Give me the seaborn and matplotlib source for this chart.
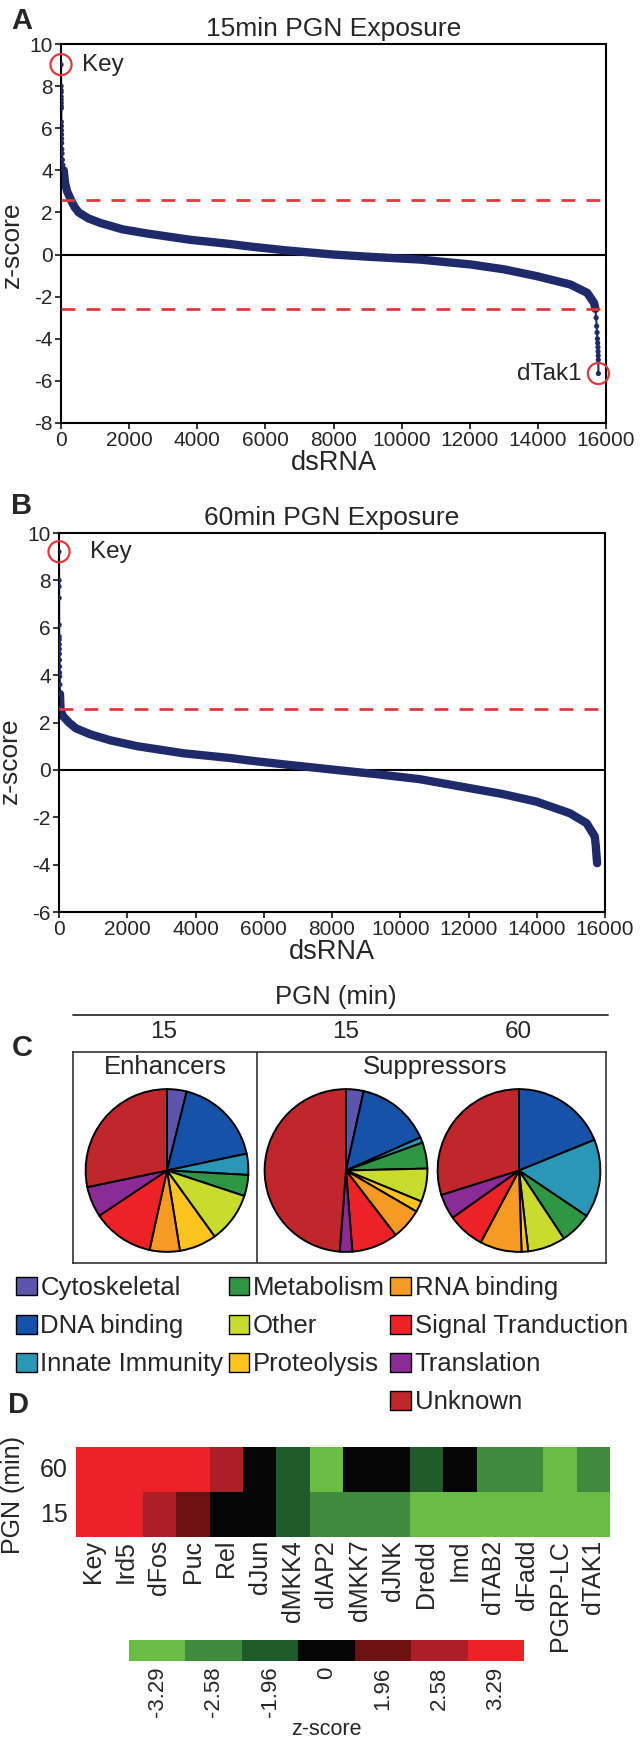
import numpy as np
import pandas as pd
import matplotlib
matplotlib.use("Agg")
import matplotlib.pyplot as plt
from matplotlib.colors import ListedColormap, BoundaryNorm
from matplotlib.patches import Patch
from matplotlib.lines import Line2D
import seaborn as sns

# A: ranked z-scores after 15 min PGN (Key first, dTak1 last)
rank_15 = [1, 2, 3, 4, 5, 6, 7, 8, 9, 10, 12, 14, 16, 18, 20, 25, 30, 40, 55, 80,
           120, 180, 296, 400, 520, 800, 1157, 1800, 2527, 3800, 4970, 5560, 6600,
           8000, 9000, 10550, 12020, 13000, 13980, 14950, 15450, 15650, 15690,
           15710, 15725, 15738, 15748, 15756, 15762, 15767, 15771, 15774, 15777]
z_15 = [9.02, 8.0, 7.8, 7.7, 7.5, 7.35, 7.2, 7.05, 6.95, 6.3, 6.1, 5.9, 5.7, 5.5,
        5.3, 5.0, 4.8, 4.5, 4.25, 4.0, 3.4, 3.0, 2.58, 2.25, 2.0, 1.72, 1.5, 1.2,
        1.0, 0.7, 0.5, 0.38, 0.2, 0.0, -0.1, -0.24, -0.47, -0.7, -1.03, -1.42,
        -1.82, -2.3, -2.58, -3.0, -3.4, -3.7, -4.0, -4.2, -4.4, -4.6, -4.8, -5.0,
        -5.65]

# B: ranked z-scores after 60 min PGN
rank_60 = [1, 2, 3, 4, 5, 6, 7, 8, 9, 10, 12, 14, 16, 20, 25, 30, 44, 100, 290,
           500, 920, 1500, 2290, 3650, 5020, 5610, 6800, 8100, 9300, 10560, 12030,
           13000, 13990, 14970, 15460, 15700, 15730, 15750, 15770]
z_60 = [9.21, 8.0, 7.74, 7.25, 6.12, 5.63, 5.5, 5.3, 5.1, 4.9, 4.64, 4.36, 4.1,
        3.94, 3.6, 3.2, 2.58, 2.3, 2.0, 1.75, 1.5, 1.25, 1.0, 0.7, 0.5, 0.39, 0.2,
        0.0, -0.18, -0.39, -0.77, -1.02, -1.34, -1.83, -2.25, -2.81, -3.2, -3.6,
        -3.94]
cutoff = 2.58

# C: functional categories of hits (percent)
categories = ["Cytoskeletal", "DNA binding", "Innate Immunity", "Metabolism", "Other",
              "Proteolysis", "RNA binding", "Signal Tranduction", "Translation", "Unknown"]
cat_colors = ["#5b55ab", "#1552a8", "#2a97b6", "#2e9744", "#c9dc2e",
              "#fcc41c", "#f59a22", "#ec2227", "#8b2b98", "#c0272d"]
enh_15 = [3.9, 17.8, 4.2, 4.2, 10.0, 7.4, 6.0, 12.2, 6.1, 28.3]
sup_15 = [3.5, 14.9, 1.1, 5.2, 6.6, 2.2, 6.2, 9.2, 2.5, 48.9]
sup_60 = [0.0, 18.9, 15.6, 6.3, 7.5, 1.3, 8.3, 7.4, 5.0, 29.9]

# D: z-score class of selected genes
genes = ["Key", "Ird5", "dFos", "Puc", "Rel", "dJun", "dMKK4", "dIAP2", "dMKK7",
         "dJNK", "Dredd", "Imd", "dTAB2", "dFadd", "PGRP-LC", "dTAK1"]
hm_60 = [3.29, 3.29, 3.29, 3.29, 2.58, 0, -1.96, -3.29, 0, 0, -1.96, 0, -2.58,
         -2.58, -3.29, -2.58]
hm_15 = [3.29, 3.29, 2.58, 1.96, 0, 0, -1.96, -2.58, -2.58, -2.58, -3.29, -3.29,
         -3.29, -3.29, -3.29, -3.29]
levels = [-3.29, -2.58, -1.96, 0, 1.96, 2.58, 3.29]
level_labels = ["-3.29", "-2.58", "-1.96", "0", "1.96", "2.58", "3.29"]
level_colors = ["#69bd45", "#3f8a3c", "#1f5a2a", "#050505", "#6d1212", "#ad1f26", "#ec2227"]

navy = "#1f2a6b"
red = "#e0393e"

sns.set_style("ticks")
plt.rcParams["font.family"] = ["Liberation Sans", "DejaVu Sans"]
plt.rcParams["axes.unicode_minus"] = False

W, H = 642, 1742
fig = plt.figure(figsize=(W / 100, H / 100), dpi=100)


def box(l, t, r, b):
    return [l / W, 1 - b / H, (r - l) / W, (b - t) / H]


def ftext(x, y, s, **kw):
    fig.text(x / W, 1 - y / H, s, ha=kw.pop("ha", "center"), va=kw.pop("va", "center"), **kw)


def rank_panel(ax, rank, z, body_lo, body_hi, ylim, lines_at, title, ylab_y):
    df = pd.DataFrame({"rank": rank, "z": z})
    body = df[(df["rank"] >= body_lo) & (df["rank"] <= body_hi)]
    ax.axhline(0, color="black", lw=1.5, zorder=1)
    sns.lineplot(data=df, x="rank", y="z", ax=ax, color=navy, lw=1.5,
                 estimator=None, sort=False, zorder=2)
    sns.lineplot(data=body, x="rank", y="z", ax=ax, color=navy, lw=6,
                 estimator=None, sort=False, zorder=2)
    sns.scatterplot(data=df, x="rank", y="z", ax=ax, color=navy, s=14,
                    edgecolor="none", zorder=3)
    for y in lines_at:
        ax.axhline(y, color=red, lw=2, dashes=(5, 4), zorder=4)
    ax.set_xlim(0, 16000)
    ax.set_ylim(*ylim)
    ax.set_xticks(range(0, 16001, 2000))
    ax.set_yticks(range(ylim[0], ylim[1] + 1, 2))
    ax.tick_params(direction="out", length=4, width=1.3, labelsize=15, pad=2)
    for sp in ax.spines.values():
        sp.set_linewidth(1.5)
        sp.set_color("black")
    ax.set_title(title, fontsize=19, pad=6)
    ax.set_xlabel("dsRNA", fontsize=19.5, labelpad=0)
    ax.set_ylabel("z-score", fontsize=19)
    ax.yaxis.set_label_coords(-0.068, ylab_y)
    # Key is the first dsRNA
    ax.scatter([rank[0]], [z[0]], s=230, facecolors="none", edgecolors=red,
               linewidths=1.6, clip_on=False, zorder=5)
    return ax


ax_a = fig.add_axes(box(61, 44, 606, 423))
rank_panel(ax_a, rank_15, z_15, 80, 15690, (-8, 10), [cutoff, -cutoff],
           "15min PGN Exposure", 0.47)
ax_a.annotate("Key", (rank_15[0], z_15[0]), xytext=(15, 0), textcoords="offset points",
              ha="left", va="center", fontsize=17.5)
ax_a.scatter([rank_15[-1]], [z_15[-1]], s=230, facecolors="none", edgecolors=red,
             linewidths=1.6, clip_on=False, zorder=5)
ax_a.annotate("dTak1", (rank_15[-1], z_15[-1]), xytext=(-12, 0), textcoords="offset points",
              ha="right", va="center", fontsize=17.5)

ax_b = fig.add_axes(box(59, 533, 605, 912))
rank_panel(ax_b, rank_60, z_60, 30, 16000, (-6, 10), [cutoff],
           "60min PGN Exposure", 0.40)
ax_b.annotate("Key", (rank_60[0], z_60[0]), xytext=(22, 0), textcoords="offset points",
              ha="left", va="center", fontsize=17.5)

ftext(22, 21, "A", fontsize=21, fontweight="bold")
ftext(22, 506, "B", fontsize=21, fontweight="bold")

# C: header, frame and pies
ftext(336, 997, "PGN (min)", fontsize=18.5)
fig.add_artist(Line2D([73 / W, 608 / W], [1 - 1015 / H, 1 - 1015 / H], color="#333333", lw=1.3))
for x, s in zip([164, 346, 518], ["15", "15", "60"]):
    ftext(x, 1032, s, fontsize=17.5)
ftext(22, 1048, "C", fontsize=21, fontweight="bold")

ax_c = fig.add_axes(box(73, 1052, 606, 1263))
ax_c.set_xlim(0, 1)
ax_c.set_ylim(0, 1)
ax_c.set_xticks([])
ax_c.set_yticks([])
for sp in ax_c.spines.values():
    sp.set_linewidth(1.2)
    sp.set_color("#333333")
ax_c.axvline((257 - 73) / (606 - 73), color="#333333", lw=1.2)
ftext(165, 1067, "Enhancers", fontsize=18.5)
ftext(435, 1067, "Suppressors", fontsize=18.5)

for cx, vals in zip([167, 346, 519], [enh_15, sup_15, sup_60]):
    axp = fig.add_axes(box(cx - 83, 1170.5 - 83, cx + 83, 1170.5 + 83))
    axp.pie(vals, colors=cat_colors, startangle=90, counterclock=False, radius=1,
            wedgeprops=dict(edgecolor="black", linewidth=1.4))
    axp.set_xlim(-1.02, 1.02)
    axp.set_ylim(-1.02, 1.02)
    axp.set_facecolor("none")
    axp.axis("off")

# legend: 3 columns, last one holds 4 entries
blank = Patch(facecolor="none", edgecolor="none")
handles = [Patch(facecolor=c, edgecolor="black", linewidth=1) for c in cat_colors]
leg_h = handles[0:3] + [blank] + handles[3:6] + [blank] + handles[6:10]
leg_l = categories[0:3] + [""] + categories[3:6] + [""] + categories[6:10]
fig.legend(leg_h, leg_l, loc="upper left", bbox_to_anchor=(16 / W, 1 - 1276 / H),
           ncol=3, frameon=False, fontsize=18.5, handlelength=0.8, handleheight=0.75,
           handletextpad=0.15, columnspacing=0.2, labelspacing=0.55, borderpad=0,
           borderaxespad=0)

# D: heatmap of selected genes
ftext(18, 1405, "D", fontsize=21, fontweight="bold")
cmap = ListedColormap(level_colors)
norm = BoundaryNorm([-4, -3, -2.2, -1, 1, 2.2, 3, 4], cmap.N)
hm = pd.DataFrame([hm_60, hm_15], index=["60", "15"], columns=genes)
ax_hm = fig.add_axes(box(76, 1447, 610, 1537))
sns.heatmap(hm, ax=ax_hm, cmap=cmap, norm=norm, cbar=False,
            xticklabels=genes, yticklabels=["60", "15"])
ax_hm.tick_params(axis="x", length=0, pad=2, labelsize=18, labelrotation=90)
ax_hm.tick_params(axis="y", length=0, pad=6, labelsize=18, labelrotation=0)
ax_hm.set_xlabel("")
ax_hm.set_ylabel("PGN (min)", fontsize=18)
ax_hm.yaxis.set_label_coords(-0.095, 0.47)

ax_cb = fig.add_axes(box(129, 1640, 524, 1661))
sns.heatmap(pd.DataFrame([levels], columns=level_labels), ax=ax_cb, cmap=cmap, norm=norm,
            cbar=False, xticklabels=level_labels, yticklabels=False)
ax_cb.tick_params(axis="x", length=0, pad=4, labelsize=16, labelrotation=90)
ax_cb.set_xlabel("z-score", fontsize=15.5, labelpad=1)

fig.savefig("out.png", dpi=100)
